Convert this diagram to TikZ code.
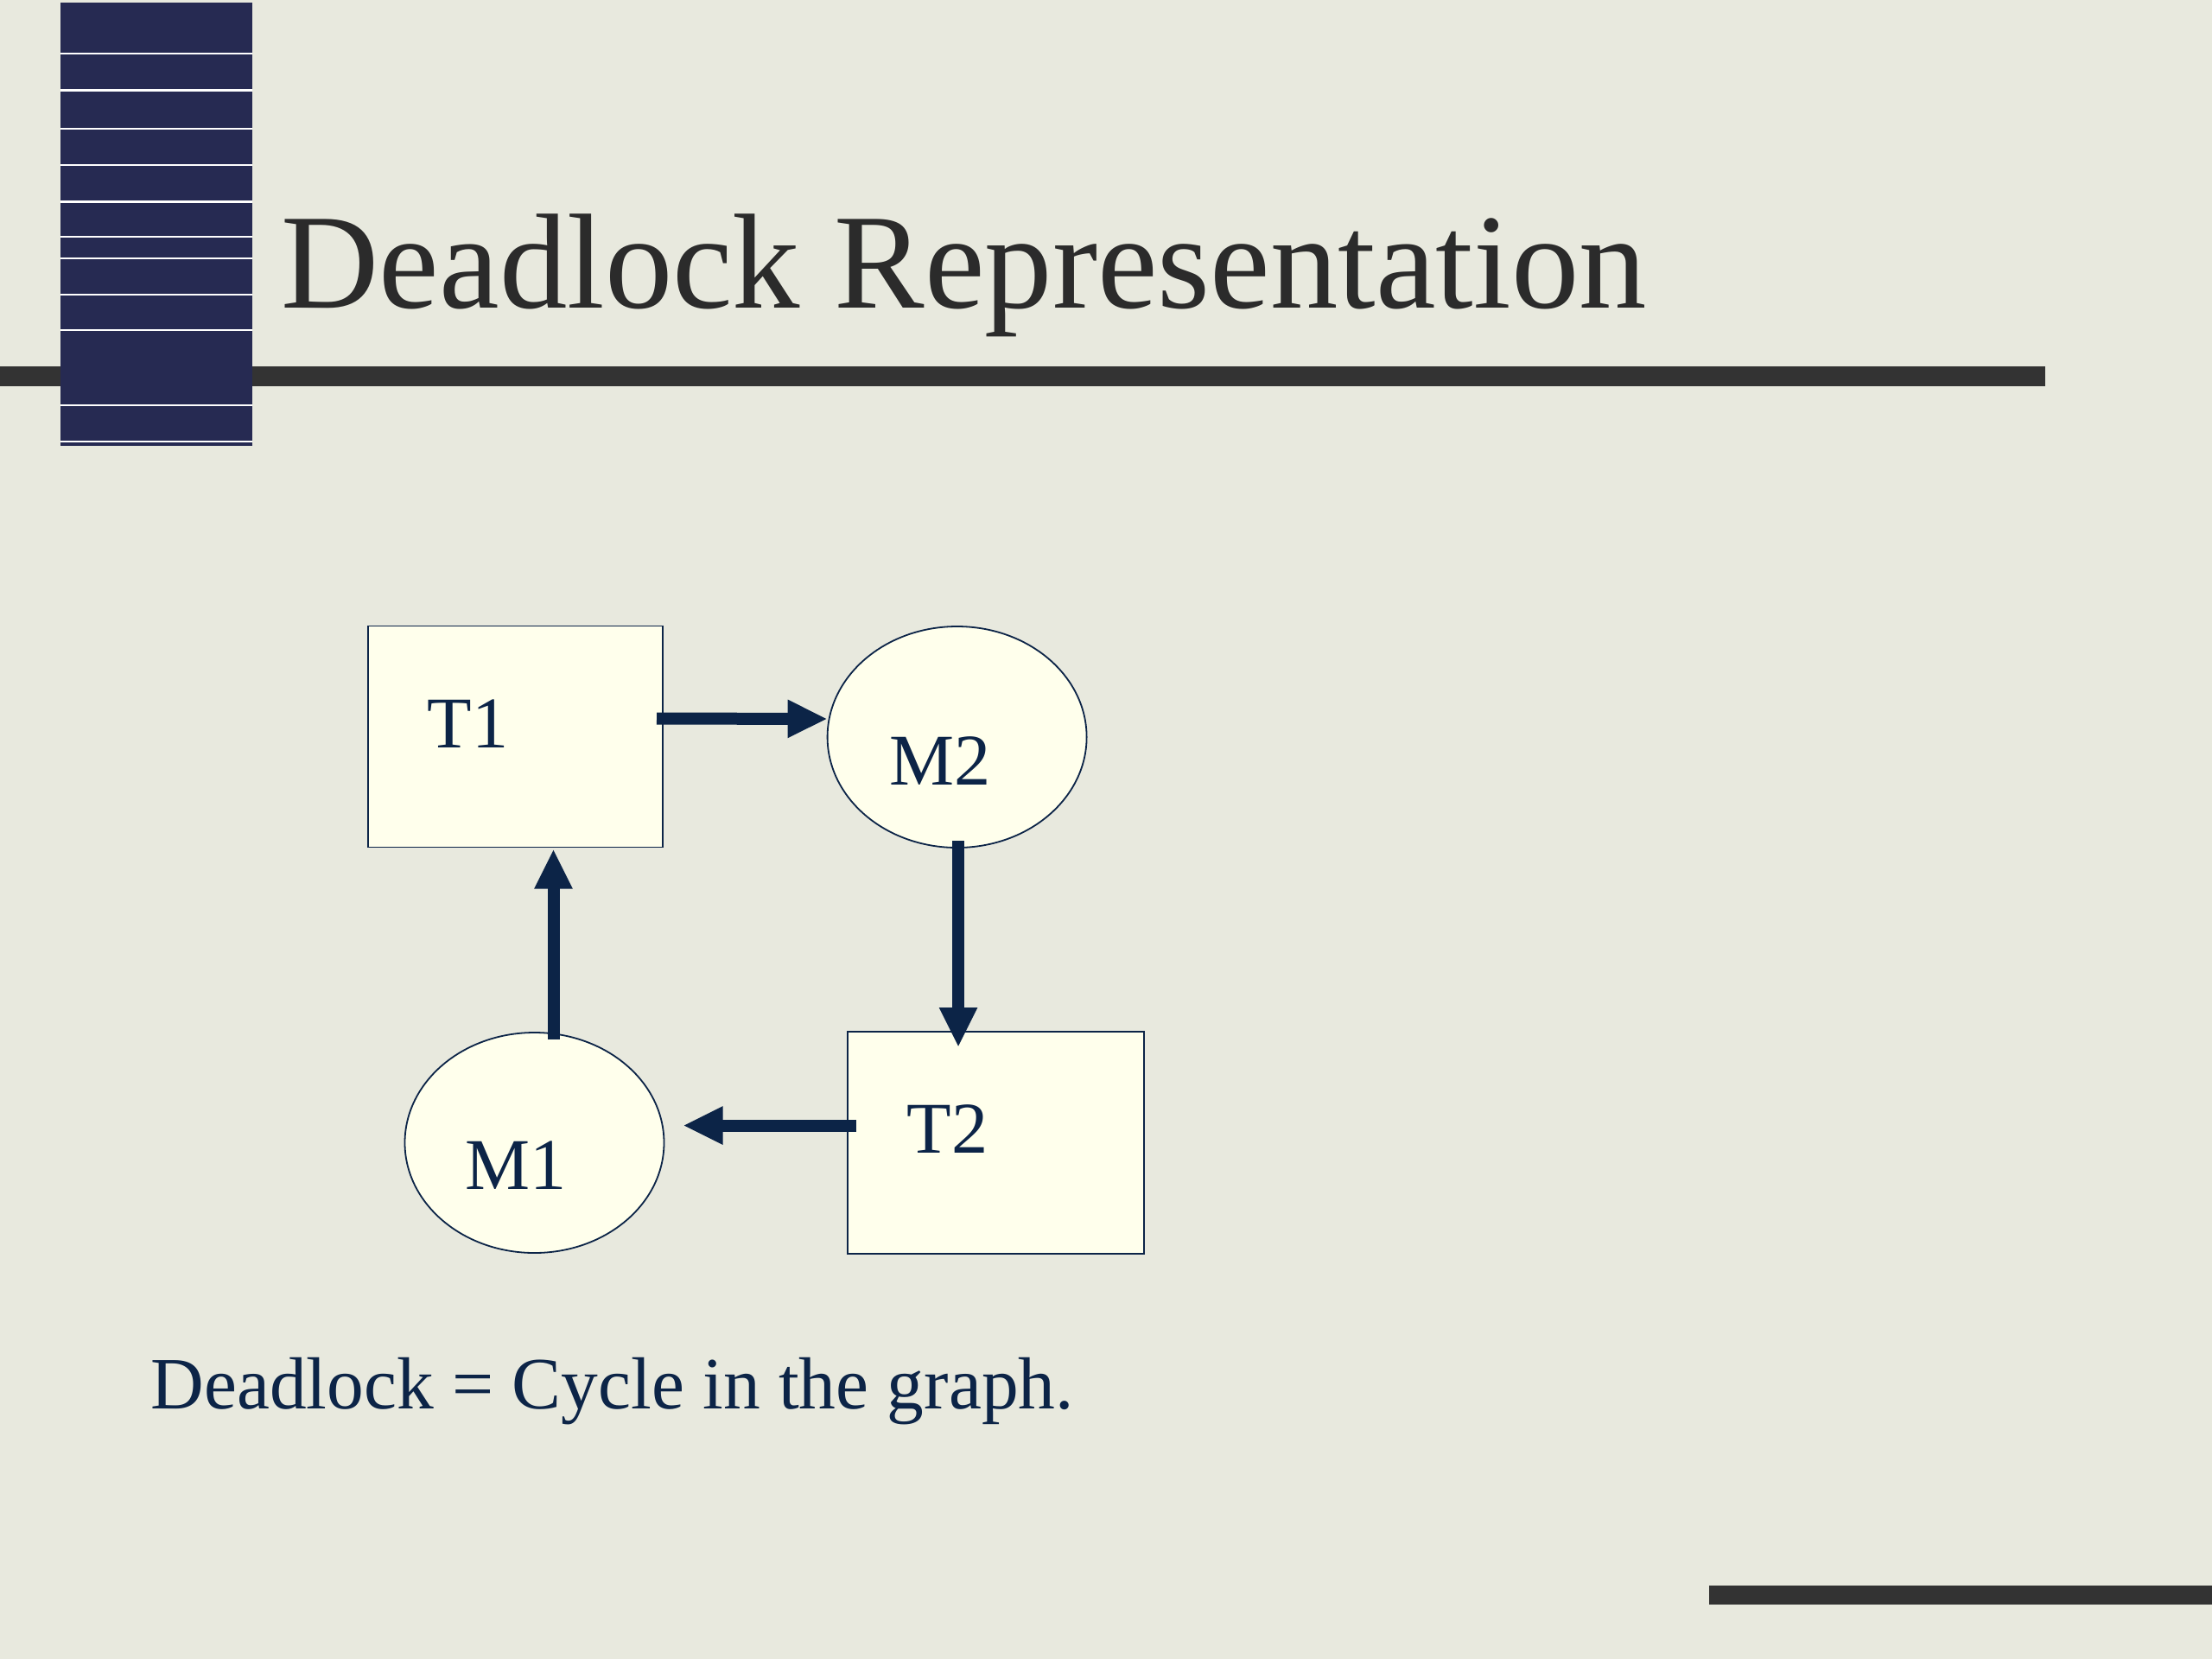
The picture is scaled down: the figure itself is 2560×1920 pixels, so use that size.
\documentclass[tikz,border=0pt]{standalone}
\usepackage{fontspec}
\setmainfont{Liberation Serif}
\usetikzlibrary{arrows.meta,shapes.geometric,calc}
\definecolor{bgc}{HTML}{E8E9DE}
\definecolor{navyblk}{HTML}{262A52}
\definecolor{barc}{HTML}{333333}
\definecolor{titlec}{HTML}{2B2B2B}
\definecolor{navy}{HTML}{0C2447}
\definecolor{cream}{HTML}{FFFFEC}
\tikzset{
  box/.style={draw=navy, fill=cream, line width=0.18mm, rectangle, inner sep=0pt, outer sep=0pt},
  oval/.style={draw=navy, fill=cream, line width=0.18mm, ellipse, inner sep=0pt, outer sep=0pt},
  lbl/.style={text=navy, anchor=base west, inner sep=0pt, font=\fontsize{24}{28}\selectfont},
  arr/.style={draw=navy, line width=1.4mm, -{Triangle[length=4.6mm,width=4.1mm]}},
  stripe/.style={draw=white, line width=0.22mm},
}
\begin{document}
\begin{tikzpicture}[x=0.1mm,y=-0.1mm]
\useasboundingbox (0,0) rectangle (2560,1920);
\fill[bgc] (0,0) rectangle (2560,1920);
% header bar and block
\fill[barc] (0,424) rectangle (2367,447);
\fill[navyblk] (70,3) rectangle (292,516);
\foreach \yy in {62,104.5,148.6,191,233.5,274,299,341,382,469,511}
  \draw[stripe] (70,\yy) -- (292,\yy);
\fill[barc] (1978,1835) rectangle (2560,1857);
% title
\node[anchor=base west, inner sep=0pt, text=titlec, font=\fontsize{44.6}{53}\selectfont] (title) at (325,356) {Deadlock Representation};
% shapes
\node[box, minimum width=34.1mm, minimum height=25.6mm] (t1) at (596.5,852.5) {};
\node[oval, minimum width=30mm, minimum height=25.6mm] (m2) at (1107.6,853) {};
\node[box, minimum width=34.3mm, minimum height=25.7mm] (t2) at (1152.3,1322.5) {};
\node[oval, minimum width=30mm, minimum height=25.5mm] (m1) at (618.5,1322.5) {};
% labels
\node[lbl] (t1l) at (494,865) {T1};
\node[lbl] (m2l) at (1029,908) {M2};
\node[lbl] (t2l) at (1049,1334) {T2};
\node[lbl] (m1l) at (538,1376) {M1};
% arrows
\draw[arr] ($(t1.east)+(-7,-21)$) -- ($(m2.west)+(0,-21)$);
\draw[arr] ($(m2.south)+(1.5,-8)$) -- ($(t2.north -| m2.south)+(1.5,18)$);
\draw[arr] ($(t2.west)+(10,-20)$) -- ($(m1.east)+(22,-20)$);
\draw[arr] ($(m1.north)+(22,8)$) -- ($(t1.south -| m1.north)+(22,2)$);
% caption
\node[anchor=base west, inner sep=0pt, text=navy, font=\fontsize{24.3}{29}\selectfont] (cap) at (174,1630) {Deadlock = Cycle in the graph.};
\end{tikzpicture}
\end{document}
